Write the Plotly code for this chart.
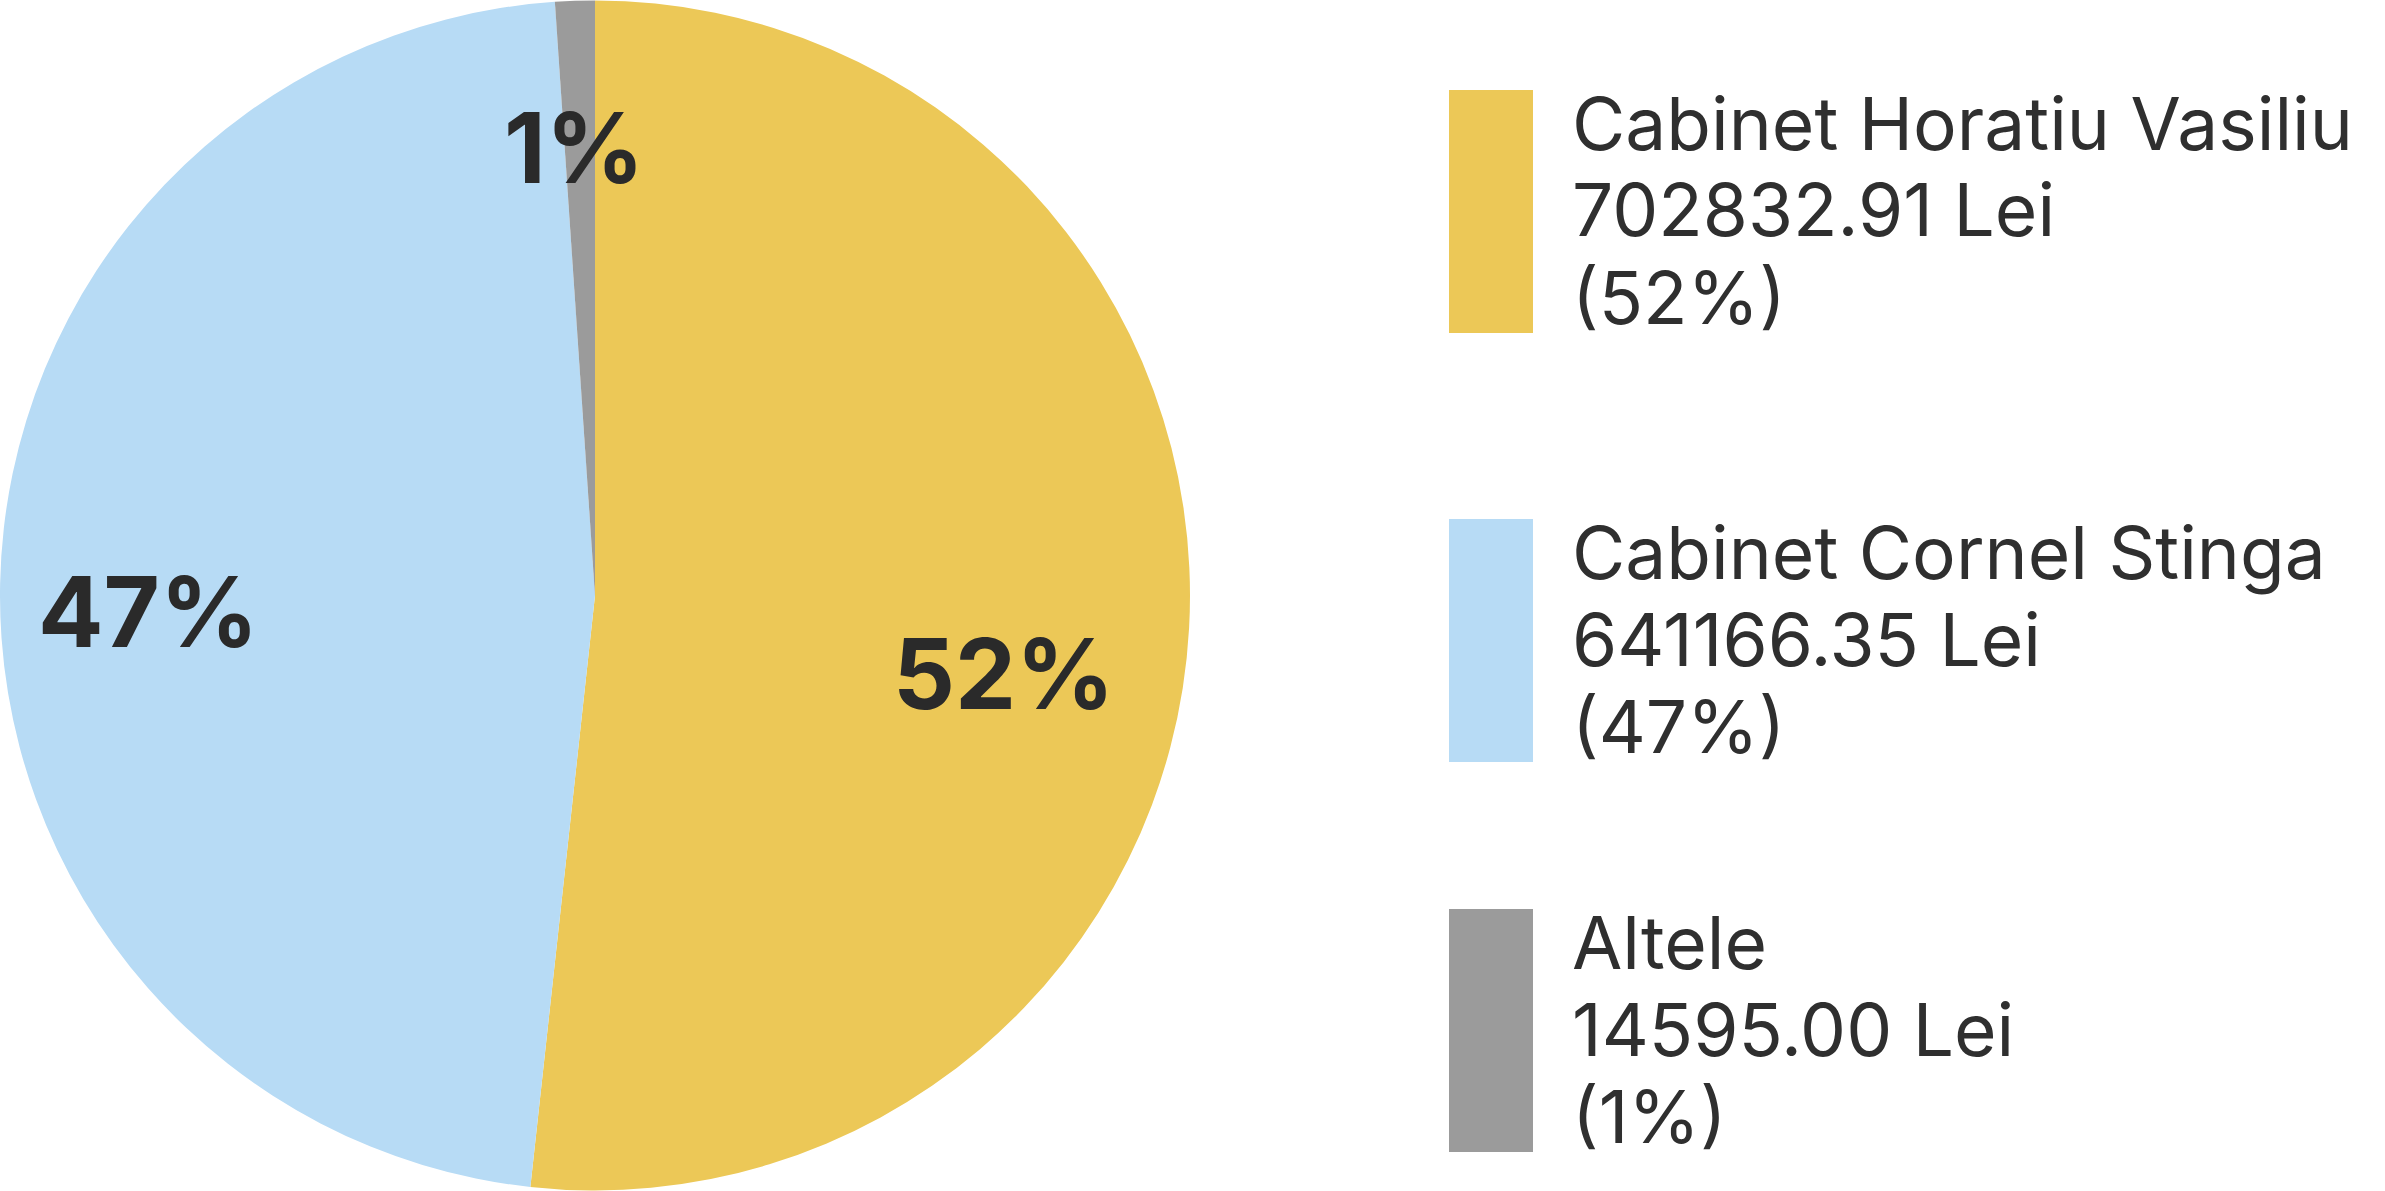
import math
import plotly.graph_objects as go

# data
categories = ["Cabinet Horatiu Vasiliu", "Cabinet Cornel Stinga", "Altele"]
amounts = [702832.91, 641166.35, 14595.00]
colors = ["#ECC857", "#B7DBF5", "#9B9B9B"]

W, H = 2385, 1191
total = sum(amounts)
shares = [a / total for a in amounts]
pct_labels = [f"{round(s * 100)}%" for s in shares]

fig = go.Figure()

fig.add_trace(go.Pie(
    labels=categories,
    values=amounts,
    textinfo='none',
    sort=False,
    direction='clockwise',
    rotation=0,
    marker=dict(colors=colors, line=dict(width=0)),
    domain=dict(x=[0, 1190 / W], y=[0, 1]),
    hoverinfo='label+value+percent',
    showlegend=False,
))

# percent labels inside the slices, placed along each slice's mid angle
cx, cy, R = 595, 595.5, 595
label_r = 0.75
label_nudge = [(-37, 54), (0, 25), (-6, -2)]
start = 0.0
for i, s in enumerate(shares):
    theta = 2 * math.pi * (start + s / 2)
    start += s
    px = cx + label_r * R * math.sin(theta) + label_nudge[i][0]
    py = cy - label_r * R * math.cos(theta) + label_nudge[i][1]
    fig.add_annotation(
        x=px / W, y=1 - py / H, xref='paper', yref='paper',
        xanchor='center', yanchor='middle', showarrow=False,
        text=pct_labels[i],
        font=dict(family='Inter', size=97, color='#2a2a2a', weight=700),
    )

# custom legend: big swatches with three text lines each
swatch_top = [90, 519, 909]
swatch_h = 243
swatch_x0, swatch_x1 = 1449, 1533
text_x = 1570
line_gap = 87
first_base = 59

for i, name in enumerate(categories):
    top = swatch_top[i]
    fig.add_shape(
        type='rect', xref='paper', yref='paper',
        x0=swatch_x0 / W, x1=swatch_x1 / W,
        y0=1 - top / H, y1=1 - (top + swatch_h) / H,
        fillcolor=colors[i], line=dict(width=0),
    )
    lines = [name, f"{amounts[i]:.2f} Lei", f"({pct_labels[i]})"]
    for k, txt in enumerate(lines):
        base = top + first_base + k * line_gap
        fig.add_annotation(
            x=text_x / W, y=1 - (base - 26) / H,
            xref='paper', yref='paper',
            xanchor='left', yanchor='middle',
            text=txt, showarrow=False,
            font=dict(family='Inter', size=73, color='#2f2f2f'),
        )

fig.update_layout(
    width=W, height=H,
    margin=dict(l=0, r=0, t=0, b=0),
    paper_bgcolor='white',
    plot_bgcolor='white',
)

fig.write_html("out.html", config={'displayModeBar': False},
               post_script="document.body.style.margin='0';")
